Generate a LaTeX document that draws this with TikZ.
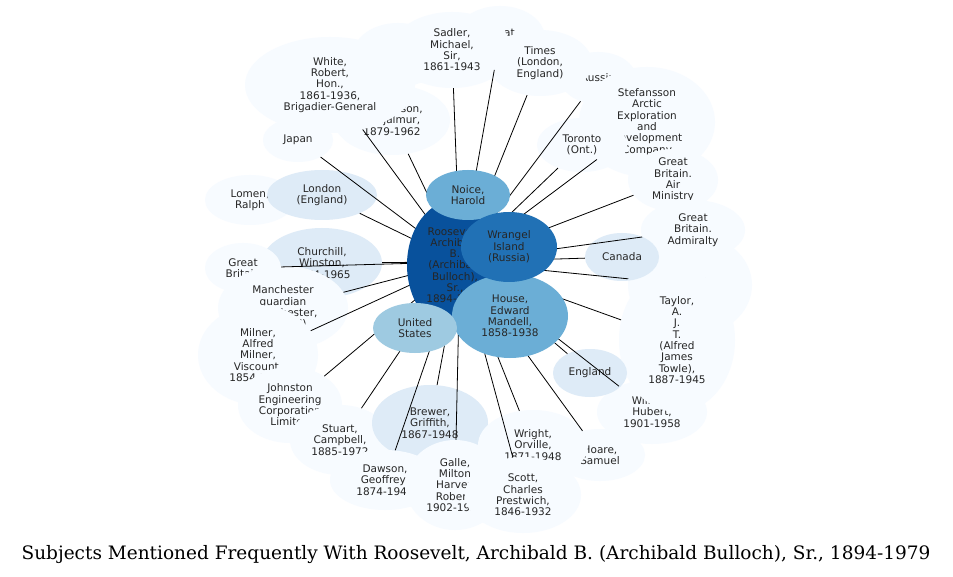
\documentclass[tikz,border=0pt]{standalone}
\usepackage{fontspec}
\newfontfamily\djsans{DejaVu Sans}
\newfontfamily\djserif{DejaVu Serif}
\usetikzlibrary{shapes.geometric}
\definecolor{c0}{HTML}{F7FBFF}
\definecolor{c1}{HTML}{DEEBF7}
\definecolor{c2}{HTML}{9ECAE1}
\definecolor{c3}{HTML}{6BAED6}
\definecolor{c4}{HTML}{2171B5}
\definecolor{c5}{HTML}{08519C}
\tikzset{bub/.style={ellipse,inner sep=0pt,align=center,font=\djsans\fontsize{10.5}{11.3}\selectfont,text=black!85},
edge/.style={black,line width=0.8pt}}
\newcommand\E[7]{\node[bub,fill=#6,minimum width=#4*2pt,minimum height=#5*2pt] (#1) at (#2pt,-#3pt) {#7};}
\begin{document}
\begin{tikzpicture}
\useasboundingbox[fill=white] (0,0) rectangle (953pt,-577pt);
\E{gbt}{500}{38}{45}{32}{c0}{Great\\Britain}
\E{brit}{398}{55}{45}{32}{c0}{Britain}
\E{vil}{392}{120}{58}{35}{c0}{Stefansson,\\Vilhjalmur,\\1879-1962}
\E{white}{330}{85}{85}{48}{c0}{White,\\Robert,\\Hon.,\\1861-1936,\\Brigadier-General}
\E{sadler}{452}{50}{60}{38}{c0}{Sadler,\\Michael,\\Sir,\\1861-1943}
\E{russia}{598}{78}{38}{26}{c0}{Russia}
\E{times}{540}{63}{52}{33}{c0}{Times\\(London,\\England)}
\E{stef}{647}{122}{68}{55}{c0}{Stefansson\\Arctic\\Exploration\\and\\Development\\Company}
\E{japan}{298}{140}{35}{22}{c0}{Japan}
\E{toronto}{582}{145}{45}{27}{c0}{Toronto\\(Ont.)}
\E{air}{673}{180}{45}{30}{c0}{Great\\Britain.\\Air\\Ministry}
\E{lomen}{250}{200}{45}{25}{c0}{Lomen,\\Ralph}
\E{london}{322}{195}{55}{25}{c1}{London\\(England)}
\E{amery}{690}{285}{62}{52}{c0}{Amery,\\L.}
\E{adm}{693}{230}{52}{30}{c0}{Great\\Britain.\\Admiralty}
\E{churchill}{322}{263}{60}{35}{c1}{Churchill,\\Winston,\\1874-1965}
\E{gbl}{243}{268}{38}{25}{c0}{Great\\Britain}
\E{canada}{622}{257}{37}{24}{c1}{Canada}
\E{manch}{283}{308}{65}{42}{c0}{Manchester\\guardian\\(Manchester,\\England)}
\E{milner}{258}{355}{60}{50}{c0}{Milner,\\Alfred\\Milner,\\Viscount,\\1854-1925}
\E{wilk}{652}{412}{55}{32}{c0}{Wilkins,\\Hubert,\\1901-1958}
\E{taylor}{677}{340}{58}{72}{c0}{Taylor,\\A.\\J.\\T.\\(Alfred\\James\\Towle),\\1887-1945}
\E{england}{590}{373}{37}{24}{c1}{England}
\E{john}{290}{405}{52}{38}{c0}{Johnston\\Engineering\\Corporation\\Limited}
\E{hoare}{600}{455}{45}{26}{c0}{Hoare,\\Samuel}
\E{stuart}{340}{440}{50}{35}{c0}{Stuart,\\Campbell,\\1885-1972}
\E{brewer}{430}{423}{58}{38}{c1}{Brewer,\\Griffith,\\1867-1948}
\E{dawson}{385}{480}{55}{30}{c0}{Dawson,\\Geoffrey,\\1874-1944}
\E{galle}{455}{485}{50}{45}{c0}{Galle,\\Milton\\Harvey\\Robert,\\1902-1924}
\E{wright}{533}{445}{55}{35}{c0}{Wright,\\Orville,\\1871-1948}
\E{scott}{523}{495}{58}{38}{c0}{Scott,\\Charles\\Prestwich,\\1846-1932}
\coordinate (r) at (460pt,-262pt);
\foreach \n in {gbt,white,sadler,russia,times,vil,stef,japan,toronto,air,london,amery,adm,churchill,gbl,canada,manch,milner,wilk,taylor,england,john,hoare,stuart,brewer,dawson,galle,wright,scott}
  \draw[edge] (r) -- (\n);
\E{root}{455}{265}{48}{65}{c5}{Roosevelt,\\Archibald\\B.\\(Archibald\\Bulloch),\\Sr.,\\1894-1979}
\E{noice}{468}{195}{42}{25}{c3}{Noice,\\Harold}
\E{house}{510}{316}{58}{42}{c3}{House,\\Edward\\Mandell,\\1858-1938}
\E{wrangel}{509}{247}{48}{35}{c4}{Wrangel\\Island\\(Russia)}
\E{us}{415}{328}{42}{25}{c2}{United\\States}
\node[font=\djserif\fontsize{18.5}{20}\selectfont] (cap) at (476pt,-555pt) {Subjects Mentioned Frequently With Roosevelt, Archibald B. (Archibald Bulloch), Sr., 1894-1979};
\end{tikzpicture}
\end{document}
